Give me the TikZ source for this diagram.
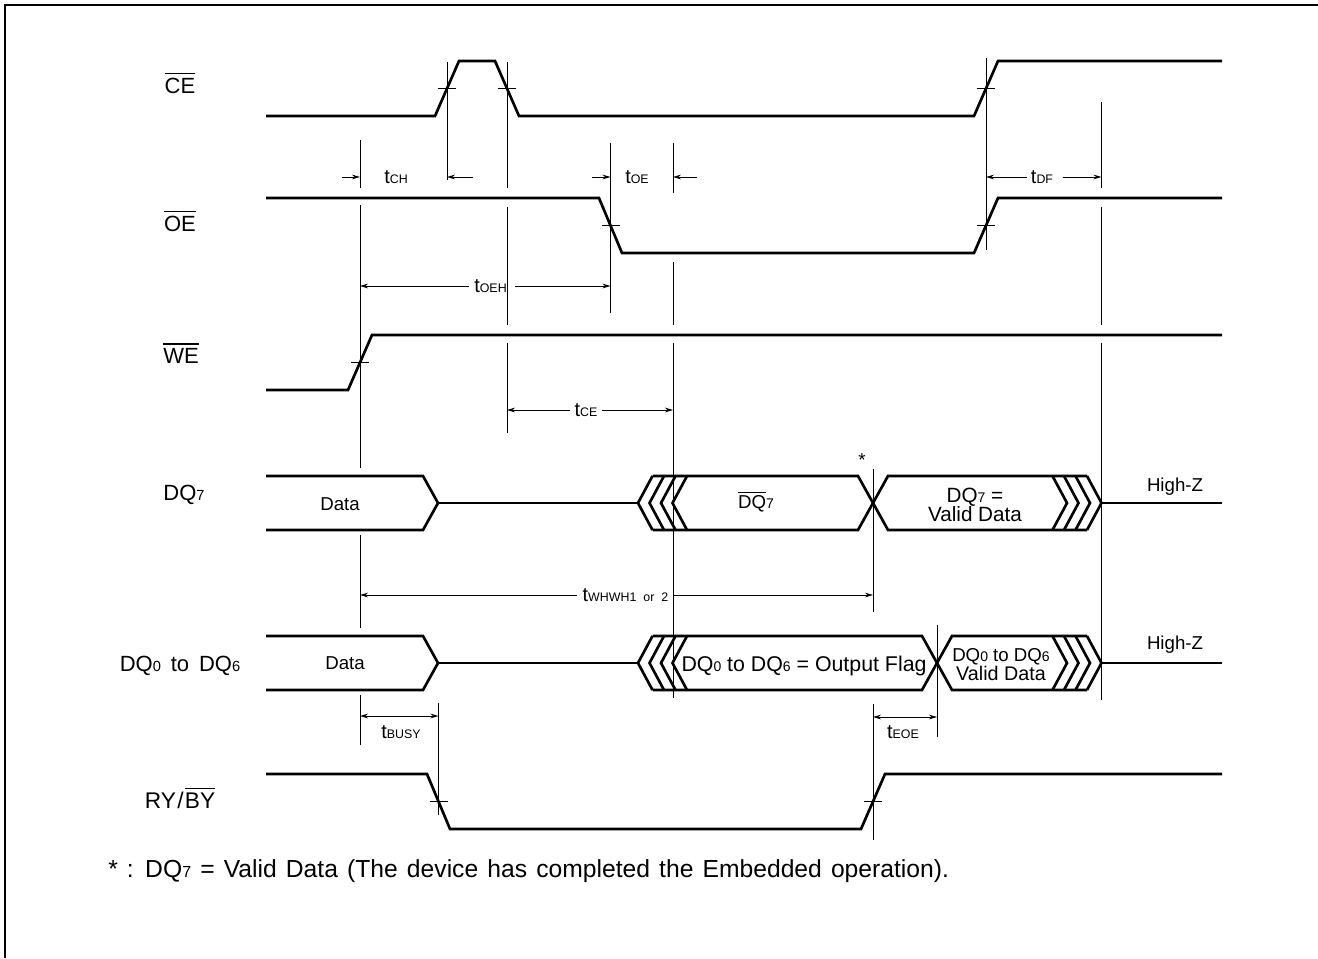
\documentclass[tikz,border=0pt]{standalone}
\usepackage{fontspec}
\setmainfont{Liberation Sans}
\usetikzlibrary{arrows.meta}
\newcommand{\ovl}[1]{\vbox{\hrule height 0.8pt\kern 2.5pt\hbox{#1}}}
\newcommand{\tsub}[1]{t{\fontsize{9.3}{9.3}\selectfont #1}}
\newcommand{\dsub}[1]{{\fontsize{10.5}{10.5}\selectfont #1}}
\begin{document}
\begin{tikzpicture}[x=0.75pt,y=-0.75pt,
  sig/.style={line width=2pt},
  vl/.style={line width=0.7pt},
  tk/.style={line width=0.7pt},
  dim/.style={line width=0.7pt,-{Stealth[length=6pt,width=3.5pt]}},
  dimb/.style={line width=0.7pt,{Stealth[length=6pt,width=3.5pt]}-{Stealth[length=6pt,width=3.5pt]}},
  lbl/.style={font=\fontsize{14}{14.3}\selectfont, inner sep=0pt},
  tl/.style={font=\fontsize{15}{15}\selectfont, inner sep=0pt},
  sl/.style={font=\fontsize{16.5}{18}\selectfont, inner sep=0pt, anchor=base},
]
\useasboundingbox (0,0) rectangle (1318,958);
\draw[line width=1.5pt] (5,958) -- (5,5) -- (1318,5);

% signal names
\node[sl] (nce) at (180,93) {\ovl{CE}};
\node[sl] (noe) at (180,231) {\ovl{OE}};
\node[sl] (nwe) at (181,363) {\ovl{WE}};
\node[sl] (ndq7) at (184,500) {DQ{\fontsize{11}{11}\selectfont 7}};
\node[sl] (ndq06) at (180,671) {\spaceskip=0.45em DQ{\fontsize{11}{11}\selectfont 0} to DQ{\fontsize{11}{11}\selectfont 6}};
\node[sl,font=\fontsize{17}{18}\selectfont] (nry) at (180,808) {RY\kern1pt/\kern1pt\ovl{BY}};

% waveforms
\draw[sig] (266,116) -- (435,116) -- (459,61) -- (495,61) -- (519,116) -- (974,116) -- (998,61) -- (1222,61);
\draw[sig] (266,198) -- (599,198) -- (622,253) -- (974,253) -- (998,198) -- (1222,198);
\draw[sig] (266,390) -- (348,390) -- (372,335) -- (1222,335);
\draw[sig] (266,774) -- (427,774) -- (450,829) -- (861,829) -- (885,774) -- (1222,774);

% crossing ticks
\foreach \x/\y in {447/88.5, 507/88.5, 986/88.5, 610.5/225.5, 986/225.5, 360/362.5, 438.5/801.5, 873/801.5}
  \draw[tk] (\x-9,\y) -- (\x+9,\y);

% reference lines
\foreach \x/\a/\b in {360/140/188, 360/205/468, 360/535/628, 360/695/745,
  447/62/180, 507/62/188, 507/207/325, 507/343/433, 610.5/143/313,
  673/143/193, 673/262/325, 673/343/698, 873/469/612, 873/704/840,
  937/625/737, 986/58/250, 1101.5/102/188, 1101.5/207/325, 1101.5/343/700,
  438.5/703/815}
  \draw[vl] (\x,\a) -- (\x,\b);

% DQ7 bus
\draw[sig] (266,476) -- (423,476) -- (438,503) -- (423,530) -- (266,530);
\draw[sig] (438,503) -- (638,503);
\foreach \t in {638,649.5,661,672.5}
  \draw[sig] (\t+14.5,476) -- (\t,503) -- (\t+14.5,530);
\draw[sig] (652.5,476) -- (858,476) -- (888,530) -- (1087,530);
\draw[sig] (652.5,530) -- (858,530) -- (888,476) -- (1087,476);
\foreach \t in {1067,1078.5,1090,1101.5}
  \draw[sig] (\t-14.5,476) -- (\t,503) -- (\t-14.5,530);
\draw[sig] (1101.5,503) -- (1222,503);

% DQ0-6 bus
\draw[sig] (266,636) -- (423,636) -- (438,663) -- (423,690) -- (266,690);
\draw[sig] (438,663) -- (638,663);
\foreach \t in {638,649.5,661,672.5}
  \draw[sig] (\t+14.5,636) -- (\t,663) -- (\t+14.5,690);
\draw[sig] (652.5,636) -- (922,636) -- (952,690) -- (1087,690);
\draw[sig] (652.5,690) -- (922,690) -- (952,636) -- (1087,636);
\foreach \t in {1067,1078.5,1090,1101.5}
  \draw[sig] (\t-14.5,636) -- (\t,663) -- (\t-14.5,690);
\draw[sig] (1101.5,663) -- (1222,663);

% bus texts
\node[lbl] (d7data) at (340,504) {Data};
\node[lbl] (d6data) at (345,663) {Data};
\node[lbl] (d7n) at (756,502) {\ovl{DQ}\dsub{7}};
\node[lbl,font=\fontsize{15.5}{14.3}\selectfont,align=center] (d7v) at (975,505) {DQ\dsub{7} =\\Valid Data};
\node[lbl,font=\fontsize{16}{16}\selectfont] (d6f) at (804,666) {DQ\dsub{0} to DQ\dsub{6} = Output Flag};
\node[lbl,align=center] (d6v) at (1001,664.5) {DQ\dsub{0} to DQ\dsub{6}\\{\fontsize{14.8}{14.3}\selectfont Valid Data}};
\node[lbl] (hz1) at (1175,487) {High-Z};
\node[lbl] (hz2) at (1175,645) {High-Z};
\node[lbl] (star) at (862,460) {*};

% timing labels and arrows
\node[tl] (tch) at (396,177) {\tsub{CH}};
\draw[dim] (342,177) -- (360,177);
\draw[dim] (473,177) -- (447,177);
\node[tl] (toe) at (637,177) {\tsub{OE}};
\draw[dim] (592,177) -- (610.5,177);
\draw[dim] (697,177) -- (673,177);
\node[tl] (tdf) at (1042,177) {\tsub{DF}};
\draw[dim] ([xshift=-3pt]tdf.west) -- (986,177);
\draw[dim] ([xshift=7pt]tdf.east) -- (1101.5,177);
\node[tl] (toeh) at (490.5,286) {\tsub{OEH}};
\draw[dim] ([xshift=-4pt]toeh.west) -- (360,286);
\draw[dim] ([xshift=6pt]toeh.east) -- (610.5,286);
\node[tl] (tce) at (586,410) {\tsub{CE}};
\draw[dim] ([xshift=-3pt]tce.west) -- (507,410);
\draw[dim] ([xshift=3pt]tce.east) -- (673,410);
\node[tl] (twh) at (625.5,595) {\spaceskip=0.35em\tsub{WHWH1 or 2}};
\draw[dim] ([xshift=-4pt]twh.west) -- (360,595);
\draw[dim] ([xshift=4pt]twh.east) -- (873,595);
\draw[dimb] (360,716) -- (438.5,716);
\node[tl] (tbusy) at (401,732) {\tsub{BUSY}};
\draw[dimb] (873,717) -- (937,717);
\node[tl] (teoe) at (903,732) {\tsub{EOE}};

% footnote
\node[sl,anchor=base west,font=\fontsize{18.5}{19}\selectfont] (note) at (108,877) {\spaceskip=0.37em * : DQ{\fontsize{12}{12}\selectfont 7} = Valid Data (The device has completed the Embedded operation).};
\end{tikzpicture}
\end{document}
